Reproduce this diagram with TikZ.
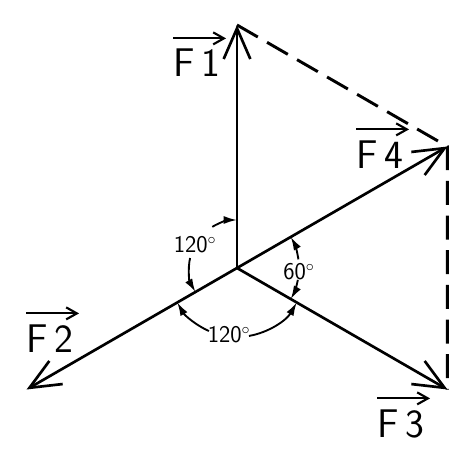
\documentclass[tikz,border=0pt]{standalone}
\usepackage{fontspec}
\usetikzlibrary{arrows.meta}
\begin{document}
\begin{tikzpicture}[x=0.75pt,y=0.75pt,
  force/.style={line width=2pt,-{Straight Barb[length=23pt,width=20pt,line width=2pt]}},
  resultant/.style={line width=2.2pt,dash pattern=on 18pt off 8pt},
  anglearc/.style={line width=1.4pt,-{Latex[length=10pt,width=6pt]}},
  vecarrow/.style={line width=1.6pt,-{Straight Barb[length=8pt,width=9pt,line width=1.6pt]}},
  forcelabel/.style={font=\sffamily\fontsize{30}{34}\selectfont,anchor=base,inner sep=0pt},
  anglelabel/.style={font=\sffamily\fontsize{18}{20}\selectfont,inner sep=0pt}]
\useasboundingbox (0,0) rectangle (473,461);
\coordinate (O) at (237,193);
\coordinate (F1) at ([shift={(90:243)}]O);
\coordinate (F2) at ([shift={(210:243)}]O);
\coordinate (F3) at ([shift={(-30:243)}]O);
\coordinate (F4) at ([shift={(30:243)}]O);

% forces
\draw[force] (O) -- (F1);
\draw[force] (O) -- (F2);
\draw[force] (O) -- (F3);
\draw[force] (O) -- (F4);
\draw[resultant] (F1) -- (F4) -- (F3);

% angles
\draw[anglearc] ([shift={(121:48)}]O) arc[start angle=121,end angle=90,radius=48];
\draw[anglearc] ([shift={(168:48)}]O) arc[start angle=168,end angle=210,radius=48];
\draw[anglearc] ([shift={(246:69)}]O) arc[start angle=246,end angle=210,radius=69];
\draw[anglearc] ([shift={(280:69)}]O) arc[start angle=280,end angle=330,radius=69];
\draw[anglearc] ([shift={(8:62)}]O) arc[start angle=8,end angle=30,radius=62];
\draw[anglearc] ([shift={(-11:62)}]O) arc[start angle=-11,end angle=-30,radius=62];

\node[anglelabel] (a12) at (195,216) {120$^{\circ}$};
\node[anglelabel] (a23) at (229,126) {120$^{\circ}$};
\node[anglelabel] (a34) at (299,189) {60$^{\circ}$};

% labels
\node[forcelabel] (l1) at (197,384) {F\,1};
\node[forcelabel] (l2) at (50,109) {F\,2};
\node[forcelabel] (l3) at (401,24) {F\,3};
\node[forcelabel] (l4) at (380,293) {F\,4};
\foreach \l in {l1,l2,l3,l4}
  \draw[vecarrow] ([yshift=8pt]\l.north west) -- ([yshift=8pt,xshift=4pt]\l.north east);
\end{tikzpicture}
\end{document}
